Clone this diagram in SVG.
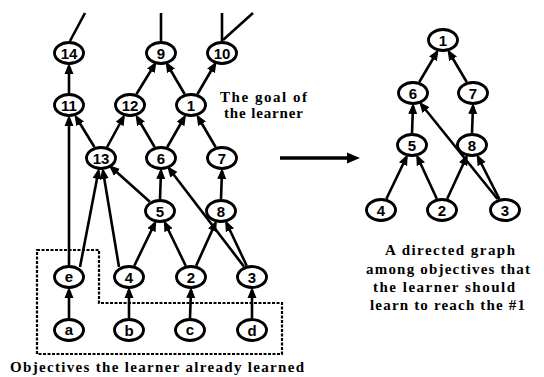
<svg xmlns="http://www.w3.org/2000/svg" width="544" height="377" viewBox="0 0 544 377">
  <defs>
    <marker id="head" markerUnits="userSpaceOnUse" markerWidth="11" markerHeight="10" refX="8" refY="5" orient="auto">
      <path d="M0,0.5 L11,5 L0,9.5 z" fill="#000"/>
    </marker>
  </defs>
  <style>
    .edge { stroke: #000; stroke-width: 2.6; fill: none; marker-end: url(#head); }
    .stub { stroke: #000; stroke-width: 2.6; fill: none; }
    .node ellipse { fill: #fff; stroke: #000; stroke-width: 2.9; }
    .node text { font-family: "Liberation Sans", Arial, sans-serif; font-weight: bold; font-size: 15px; text-anchor: middle; }
    .note { font-family: "Liberation Serif", "Times New Roman", serif; font-weight: bold; font-size: 15px; fill: #000; }
    .box { fill: none; stroke: #000; stroke-width: 2.2; stroke-dasharray: 3 1.5; }
  </style>
  <rect width="544" height="377" fill="#fff"/>

  <!-- connectors -->
  <g id="connectors">
    <!-- open-ended lines leaving the top row -->
    <line class="stub" x1="70" y1="41" x2="85" y2="13"/>
    <line class="stub" x1="161" y1="41" x2="161" y2="13"/>
    <line class="stub" x1="222" y1="41" x2="222" y2="13"/>
    <line class="stub" x1="223" y1="40" x2="253" y2="13"/>

    <!-- left graph -->
    <line class="edge" x1="69" y1="93" x2="69" y2="66"/>
    <line class="edge" x1="136.5" y1="94" x2="155" y2="64"/>
    <line class="edge" x1="184.6" y1="94" x2="167" y2="64"/>
    <line class="edge" x1="197.5" y1="94" x2="215" y2="64"/>
    <line class="edge" x1="94.4" y1="147" x2="76" y2="117"/>
    <line class="edge" x1="107.1" y1="147" x2="123.5" y2="117"/>
    <line class="edge" x1="154.6" y1="147" x2="137" y2="117"/>
    <line class="edge" x1="167.3" y1="147" x2="184.5" y2="117"/>
    <line class="edge" x1="215.6" y1="147" x2="198" y2="117"/>
    <line class="edge" x1="69" y1="265" x2="69" y2="118"/>
    <line class="edge" x1="80" y1="267" x2="98.5" y2="171"/>
    <line class="edge" x1="119" y1="267" x2="103" y2="171"/>
    <line class="edge" x1="149.8" y1="201.8" x2="111" y2="167"/>
    <line class="edge" x1="160" y1="199" x2="161" y2="171"/>
    <line class="edge" x1="244" y1="266.6" x2="169" y2="168.5"/>
    <line class="edge" x1="221" y1="199" x2="222" y2="171"/>
    <line class="edge" x1="134.3" y1="265.7" x2="155" y2="223"/>
    <line class="edge" x1="185.7" y1="265.7" x2="165" y2="223"/>
    <line class="edge" x1="196.2" y1="265.6" x2="215.5" y2="223"/>
    <line class="edge" x1="246.7" y1="265.7" x2="226.5" y2="223"/>
    <line class="edge" x1="69" y1="318" x2="69" y2="290"/>
    <line class="edge" x1="129" y1="318" x2="129" y2="290"/>
    <line class="edge" x1="190" y1="318" x2="191" y2="290"/>
    <line class="edge" x1="252" y1="318" x2="252" y2="290"/>

    <!-- right graph -->
    <line class="edge" x1="419.3" y1="82" x2="437" y2="52"/>
    <line class="edge" x1="466.7" y1="82" x2="449" y2="52"/>
    <line class="edge" x1="412" y1="133" x2="413" y2="106"/>
    <line class="edge" x1="472" y1="133" x2="473" y2="106"/>
    <line class="edge" x1="497.5" y1="199" x2="421" y2="104"/>
    <line class="edge" x1="386.4" y1="198.7" x2="406.5" y2="157"/>
    <line class="edge" x1="436.8" y1="198.7" x2="417.5" y2="157"/>
    <line class="edge" x1="447.2" y1="198.7" x2="466.5" y2="157"/>
    <line class="edge" x1="499.3" y1="198.8" x2="478" y2="157"/>

    <!-- transition arrow between the two graphs -->
    <line x1="280" y1="158" x2="350" y2="158" stroke="#000" stroke-width="3.5"/>
    <path d="M347,152.5 L360,158 L347,163.5 z" fill="#000"/>
  </g>

  <!-- region of objectives already learned -->
  <path class="box" d="M37,250 H99 V303 H282 V354 H37 Z"/>

  <!-- left graph nodes -->
  <g id="n14" class="node"><ellipse cx="69" cy="53" rx="14.5" ry="10.5"/><text x="69" y="58.5">14</text></g>
  <g id="n9" class="node"><ellipse cx="161" cy="53" rx="14.5" ry="10.5"/><text x="161" y="58.5">9</text></g>
  <g id="n10" class="node"><ellipse cx="222" cy="53" rx="14.5" ry="10.5"/><text x="222" y="58.5">10</text></g>
  <g id="n11" class="node"><ellipse cx="69" cy="105" rx="14.5" ry="10.5"/><text x="69" y="110.5">11</text></g>
  <g id="n12" class="node"><ellipse cx="130" cy="105" rx="14.5" ry="10.5"/><text x="130" y="110.5">12</text></g>
  <g id="n1" class="node"><ellipse cx="191" cy="105" rx="14.5" ry="10.5"/><text x="191" y="110.5">1</text></g>
  <g id="n13" class="node"><ellipse cx="101" cy="158" rx="14.5" ry="10.5"/><text x="101" y="163.5">13</text></g>
  <g id="n6" class="node"><ellipse cx="161" cy="158" rx="14.5" ry="10.5"/><text x="161" y="163.5">6</text></g>
  <g id="n7" class="node"><ellipse cx="222" cy="158" rx="14.5" ry="10.5"/><text x="222" y="163.5">7</text></g>
  <g id="n5" class="node"><ellipse cx="160" cy="211" rx="14.5" ry="10.5"/><text x="160" y="216.5">5</text></g>
  <g id="n8" class="node"><ellipse cx="221" cy="211" rx="14.5" ry="10.5"/><text x="221" y="216.5">8</text></g>
  <g id="ne" class="node"><ellipse cx="69" cy="277" rx="14.5" ry="10.5"/><text x="69" y="282">e</text></g>
  <g id="n4" class="node"><ellipse cx="129" cy="277" rx="14.5" ry="10.5"/><text x="129" y="282.5">4</text></g>
  <g id="n2" class="node"><ellipse cx="191" cy="277" rx="14.5" ry="10.5"/><text x="191" y="282.5">2</text></g>
  <g id="n3" class="node"><ellipse cx="252" cy="277" rx="14.5" ry="10.5"/><text x="252" y="282.5">3</text></g>
  <g id="na" class="node"><ellipse cx="69" cy="330" rx="14.5" ry="10.5"/><text x="69" y="335">a</text></g>
  <g id="nb" class="node"><ellipse cx="129" cy="330" rx="14.5" ry="10.5"/><text x="129" y="335.5">b</text></g>
  <g id="nc" class="node"><ellipse cx="190" cy="330" rx="14.5" ry="10.5"/><text x="190" y="335">c</text></g>
  <g id="nd" class="node"><ellipse cx="252" cy="330" rx="14.5" ry="10.5"/><text x="252" y="335.5">d</text></g>

  <!-- right graph nodes -->
  <g id="r1" class="node"><ellipse cx="443" cy="40" rx="14.5" ry="10.5"/><text x="443" y="45.5">1</text></g>
  <g id="r6" class="node"><ellipse cx="413" cy="93" rx="14.5" ry="10.5"/><text x="413" y="98.5">6</text></g>
  <g id="r7" class="node"><ellipse cx="473" cy="93" rx="14.5" ry="10.5"/><text x="473" y="98.5">7</text></g>
  <g id="r5" class="node"><ellipse cx="412" cy="145" rx="14.5" ry="10.5"/><text x="412" y="150.5">5</text></g>
  <g id="r8" class="node"><ellipse cx="472" cy="145" rx="14.5" ry="10.5"/><text x="472" y="150.5">8</text></g>
  <g id="r4" class="node"><ellipse cx="381" cy="210" rx="14.5" ry="10.5"/><text x="381" y="215.5">4</text></g>
  <g id="r2" class="node"><ellipse cx="442" cy="210" rx="14.5" ry="10.5"/><text x="442" y="215.5">2</text></g>
  <g id="r3" class="node"><ellipse cx="505" cy="210" rx="14.5" ry="10.5"/><text x="505" y="215.5">3</text></g>

  <!-- annotations -->
  <text class="note" x="220" y="101.5" textLength="87" lengthAdjust="spacing">The goal of</text>
  <text class="note" x="224" y="117.5" textLength="79" lengthAdjust="spacing">the learner</text>
  <text class="note" x="10" y="372" textLength="294" lengthAdjust="spacing">Objectives the learner already learned</text>
  <text class="note" x="385" y="255" textLength="130" lengthAdjust="spacing">A directed graph</text>
  <text class="note" x="366" y="273.5" textLength="164" lengthAdjust="spacing">among objectives that</text>
  <text class="note" x="373" y="292" textLength="142" lengthAdjust="spacing">the learner should</text>
  <text class="note" x="370" y="310" textLength="155" lengthAdjust="spacing">learn to reach the #1</text>
</svg>
